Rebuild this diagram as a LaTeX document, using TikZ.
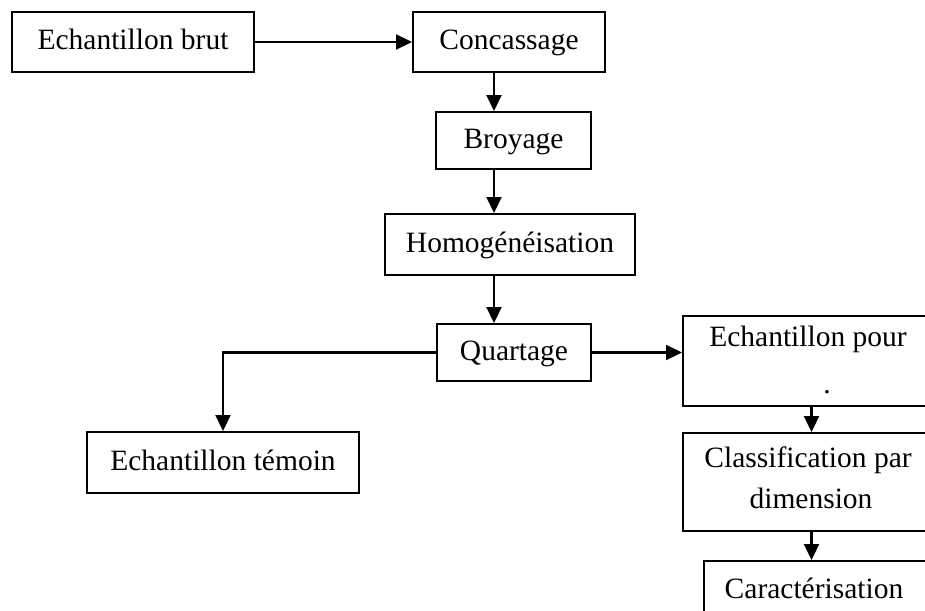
\documentclass[tikz,border=0pt]{standalone}
\usepackage{fontspec}
\setmainfont{Liberation Serif}
\usetikzlibrary{arrows.meta,calc}

\tikzset{
  stepbox/.style={draw, line width=2pt, inner sep=0pt, align=center,
    text height=20.5pt, text depth=5.5pt,
    font=\fontsize{29.5}{41}\selectfont},
  bare/.style={draw, line width=2pt, inner sep=0pt},
  lbl/.style={inner sep=0pt, anchor=base, font=\fontsize{29.5}{35}\selectfont},
  flow/.style={line width=2.2pt, -{Triangle[length=16pt,width=15pt]}}
}

\begin{document}
\begin{tikzpicture}[x=1pt,y=-1pt]
  \useasboundingbox (0,0) rectangle (925,610);
  \clip (0,0) rectangle (925,610);
  \fill[white] (0,0) rectangle (925,610);

  % main chain
  \node[stepbox, minimum width=242pt, minimum height=60pt] (brut) at (133,42) {Echantillon brut};
  \node[stepbox, minimum width=192pt, minimum height=60pt] (conc) at (509,42) {Concassage};
  \node[stepbox, minimum width=155pt, minimum height=57pt] (broy) at (513.5,140.5) {Broyage};
  \node[stepbox, minimum width=250pt, minimum height=61pt] (homo) at (510,244.5) {Homogénéisation};
  \node[stepbox, minimum width=154pt, minimum height=57pt] (quart) at (514,352.5) {Quartage};

  % left branch
  \node[stepbox, minimum width=272pt, minimum height=61pt] (temoin) at (223,462.5) {Echantillon témoin};

  % right branch (boxes run past the right edge)
  \node[bare, minimum width=257pt, minimum height=90pt] (epour) at (811.5,361) {};
  \node[lbl] (epourt) at (808,346) {Echantillon pour};
  \node[lbl] (epourd) at (827,393) {.};
  \node[bare, minimum width=257pt, minimum height=98pt] (class) at (811.5,482) {};
  \node[lbl] (classa) at (808,467) {Classification par};
  \node[lbl] (classb) at (811,508) {dimension};
  \node[bare, minimum width=241pt, minimum height=69pt] (cara) at (824.5,595.5) {};
  \node[lbl] (carat) at (814,598) {Caractérisation};

  % connectors
  \draw[flow] (brut.east) -- (brut.east -| conc.west);
  \draw[flow] (conc.south -| 494,0) -- (broy.north -| 494,0);
  \draw[flow] (broy.south -| 494,0) -- (homo.north -| 494,0);
  \draw[flow] (homo.south -| 494,0) -- (quart.north -| 494,0);
  \draw[flow] (quart.west) -- (quart.west -| temoin.north) -- (temoin.north);
  \draw[flow] (quart.east) -- (quart.east -| epour.west);
  \draw[flow] (epour.south) -- (class.north);
  \draw[flow] (class.south) -- (class.south |- cara.north);
\end{tikzpicture}
\end{document}
